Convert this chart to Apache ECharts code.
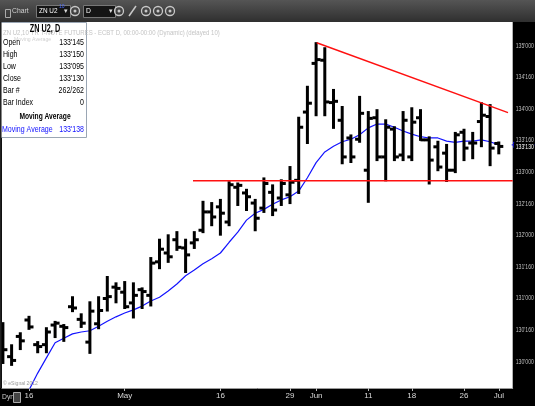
<!DOCTYPE html>
<html><head><meta charset="utf-8">
<script src="https://cdn.jsdelivr.net/npm/echarts@6/dist/echarts.min.js"></script>
<style>html,body{margin:0;padding:0;background:#000;}#c{width:535px;height:406px;}</style>
</head><body><div id="c"></div>
<script>
// ---- data (ZN U2, daily) ----
const dates = ['04-11','04-12','04-13','04-16','04-17','04-18','04-19','04-20','04-23','04-24','04-25','04-26','04-27','04-30',
 '05-01','05-02','05-03','05-04','05-07','05-08','05-09','05-10','05-11','05-14','05-15','05-16','05-17','05-18','05-21','05-22','05-23','05-24','05-25','05-29','05-30','05-31',
 '06-01','06-04','06-05','06-06','06-07','06-08','06-11','06-12','06-13','06-14','06-15','06-18','06-19','06-20','06-21','06-22','06-25','06-26','06-27','06-28','06-29',
 '07-02'];
const opens  = [130.45,130.08,130.40,130.66,130.27,130.27,130.58,130.56,130.87,130.67,130.31,130.60,131.00,131.18,
 131.10,130.93,131.14,131.05,131.58,131.72,131.93,131.80,131.88,132.08,132.37,132.45,132.21,132.76,132.67,132.51,132.43,132.68,132.59,132.64,132.87,133.95,
 134.72,134.77,134.10,133.82,133.54,133.52,133.03,133.86,133.24,133.68,133.27,133.24,133.86,133.51,133.40,133.30,133.03,133.63,133.46,133.80,133.88,
 133.453125];
const highs  = [130.61,130.26,130.45,130.71,130.31,130.53,130.63,130.58,131.02,130.75,130.94,131.02,131.34,131.24,
 131.26,131.24,131.16,131.64,131.93,132.00,132.05,131.93,132.05,132.53,132.51,132.56,132.84,132.82,132.72,132.56,132.90,132.79,132.87,133.08,133.86,134.35,
 135.04,134.96,134.30,134.03,133.58,134.19,133.95,133.98,133.82,133.71,133.95,134.01,133.98,133.55,133.48,133.43,133.62,133.67,133.62,134.09,134.06,
 133.46875];
const lows   = [129.98,129.95,130.20,130.52,130.15,130.15,130.39,130.33,130.80,130.55,130.14,130.53,130.81,130.94,
 130.85,130.70,130.85,130.89,131.48,131.58,131.77,131.42,131.80,132.05,132.16,132.01,132.16,132.48,132.40,132.08,132.37,132.32,132.48,132.51,132.67,133.46,
 133.90,133.90,133.70,133.14,133.16,133.48,132.53,133.19,132.87,133.19,133.19,133.19,133.51,132.82,133.03,132.86,133.00,133.19,133.22,133.41,133.11,
 133.296875];
const closes = [130.19,130.02,130.33,130.55,130.24,130.47,130.61,130.54,130.85,130.61,130.80,130.81,131.03,131.16,
 130.87,131.05,131.11,131.56,131.78,131.66,131.81,131.69,131.93,132.37,132.29,132.35,132.80,132.79,132.61,132.27,132.82,132.40,132.82,132.84,133.71,134.09,
 134.78,134.11,134.12,133.24,133.24,133.93,133.85,133.24,133.71,133.24,133.82,133.79,133.51,133.19,133.08,133.03,133.59,133.38,133.46,133.90,133.38,
 133.40625];
const maValues = [null,null,null,129.55,129.82,130.06,130.30,130.37,130.44,130.47,130.49,130.56,130.64,130.71,
 130.77,130.82,130.88,130.96,131.02,131.12,131.23,131.36,131.45,131.55,131.63,131.72,131.89,132.05,132.24,132.35,132.41,132.49,132.56,132.61,132.70,132.91,
 133.15,133.32,133.41,133.48,133.52,133.59,133.70,133.76,133.76,133.71,133.65,133.60,133.56,133.54,133.54,133.49,133.47,133.49,133.49,133.51,133.48,
 133.43125];
const tickIndex  = [3,14,25,33,36,42,47,53,57];
const tickLabels = ['16','May','16','29','Jun','11','18','26','Jul'];
const priceTicks = [130,130.5,131,131.5,132,132.5,133,133.5,134,134.5,135];
const resistanceLine = [[36.07,135.047],[58.06,133.94]];
const supportLine    = [[21.85,132.864],[58.6,132.864]];

// ---- helpers ----
const FONT = '"Liberation Sans",Arial,sans-serif';
function fmt32(v){
  const n = Math.floor(v + 1e-9);
  let f = (v - n) * 32;
  let w = Math.floor(f + 1e-6);
  let d = Math.round((f - w) * 10);
  if (d === 10) { w += 1; d = 0; }
  return n + "'" + String(w).padStart(2,'0') + d;
}
const last = dates.length - 1;
const ohlcData = dates.map((d,i)=>[i, opens[i], highs[i], lows[i], closes[i]]);
const maData = maValues.map((v,i)=>[i, v]);
const priceTickData = priceTicks.map(v=>[last, v]);

const chart = echarts.init(document.getElementById('c'), null, {renderer:'canvas'});

function renderBar(params, api){
  const x = api.value(0);
  const o = api.coord([x, api.value(1)]);
  const h = api.coord([x, api.value(2)]);
  const l = api.coord([x, api.value(3)]);
  const c = api.coord([x, api.value(4)]);
  const st = {stroke:'#000', lineWidth:3};
  return {type:'group', children:[
    {type:'line', shape:{x1:h[0], y1:h[1]-1, x2:l[0], y2:l[1]+1}, style:st},
    {type:'line', shape:{x1:o[0]-4.5, y1:o[1], x2:o[0], y2:o[1]}, style:st},
    {type:'line', shape:{x1:c[0], y1:c[1], x2:c[0]+4.5, y2:c[1]}, style:st}
  ]};
}

// price-axis tick labels (narrow, like the original terminal font)
function renderPriceLabel(params, api){
  const p = api.coord([api.value(0), api.value(1)]);
  const xr = params.coordSys.x + params.coordSys.width;
  return {type:'text', x:xr+3, y:p[1], scaleX:0.74,
    style:{x:0, y:0, text:fmt32(api.value(1)), fill:'#bdbdbd', font:'7px '+FONT, verticalAlign:'middle'}};
}

function renderTag(params, api){
  const p = api.coord([api.value(0), api.value(1)]);
  const xr = params.coordSys.x + params.coordSys.width;
  const kind = api.value(2);
  if (kind === 0) {
    return {type:'group', children:[
      {type:'line', shape:{x1:xr-1, y1:p[1], x2:535, y2:p[1]}, style:{stroke:'#1a1aff', lineWidth:1.2}},
      {type:'line', shape:{x1:xr+1, y1:p[1]-3, x2:xr+1, y2:p[1]+3}, style:{stroke:'#1a1aff', lineWidth:1}}
    ]};
  }
  return {type:'group', children:[
    {type:'rect', shape:{x:xr+1, y:p[1]-3.5, width:21, height:8}, style:{fill:'#000'}},
    {type:'text', x:xr+3, y:p[1]+0.5, scaleX:0.74, style:{x:0, y:0, text:fmt32(api.value(1)), fill:'#ffffff', font:'7px '+FONT, verticalAlign:'middle'}}
  ]};
}

const infoRows = [['Open', fmt32(opens[last])],['High', fmt32(highs[last])],['Low', fmt32(lows[last])],['Close', fmt32(closes[last])],['Bar #','262/262'],['Bar Index','0']];
const infoY = [43,55,67,79,91,103];
const graphics = [];
function txt(x, y, text, fill, font, align, sx, z){
  graphics.push({type:'text', x:x, y:y, scaleX:sx, z:z||104,
    style:{x:0, y:0, text:text, fill:fill, font:font, align:align||'left', verticalAlign:'middle'}});
}
// toolbar
graphics.push({type:'rect', left:0, top:0, z:100, shape:{width:535, height:22},
  style:{fill:new echarts.graphic.LinearGradient(0,0,0,1,[{offset:0,color:'#555'},{offset:1,color:'#2f2f2f'}])}});
graphics.push({type:'rect', left:3, top:7, z:101, shape:{width:5, height:8}, style:{fill:'none', stroke:'#aaa', lineWidth:1}});
txt(12, 11, 'Chart', '#cfcfcf', '8px '+FONT, 'left', 0.85, 102);
graphics.push({type:'rect', left:36, top:5, z:101, shape:{width:34, height:12}, style:{fill:'#151515', stroke:'#777', lineWidth:1}});
txt(39, 11, 'ZN U2', '#fff', '8px '+FONT, 'left', 0.8, 102);
txt(59, 7, '10', '#4a6cff', '5px '+FONT, 'left', 1, 102);
txt(64, 11, '▾', '#ddd', '7px DejaVu Sans', 'left', 1, 102);
graphics.push({type:'rect', left:83, top:5, z:101, shape:{width:32, height:12}, style:{fill:'#151515', stroke:'#777', lineWidth:1}});
txt(86, 11, 'D', '#fff', '8px '+FONT, 'left', 0.85, 102);
txt(109, 11, '▾', '#ddd', '7px DejaVu Sans', 'left', 1, 102);
[75,119,146,158,170].forEach(cx=>{
  graphics.push({type:'circle', z:101, shape:{cx:cx, cy:11, r:4.5}, style:{fill:'none', stroke:'#c8c8c8', lineWidth:1.3}});
  graphics.push({type:'circle', z:101, shape:{cx:cx, cy:11, r:1.5}, style:{fill:'#c8c8c8'}});
});
graphics.push({type:'line', z:101, shape:{x1:129, y1:16, x2:136, y2:6}, style:{stroke:'#c8c8c8', lineWidth:1.5}});
// info box
graphics.push({type:'rect', left:0, top:22, z:102, shape:{width:86, height:115}, style:{fill:'rgba(255,255,255,0.93)', stroke:'#9aa6b4', lineWidth:1}});
// faint chart title
txt(3, 33, 'ZN U2,10 YR T-NOTE FUTURES - ECBT D, 00:00-00:00 (Dynamic) (delayed 10)', '#c4c4c4', '7px '+FONT, 'left', 0.86, 103);
txt(14, 39, 'Moving Average', '#d0d0d0', '6px '+FONT, 'left', 0.86, 103);
txt(45, 29, 'ZN U2, D', '#000', 'bold 11px '+FONT, 'center', 0.66, 104);
infoRows.forEach((r,k)=>{
  txt(3, infoY[k], r[0], '#000', '9px '+FONT, 'left', 0.78, 104);
  txt(84, infoY[k], r[1], '#000', '9px '+FONT, 'right', 0.78, 104);
});
txt(45, 117, 'Moving Average', '#000', 'bold 9px '+FONT, 'center', 0.74, 104);
txt(2, 130, 'Moving Average', '#1010ff', '9px '+FONT, 'left', 0.78, 104);
txt(84, 130, fmt32(maValues[last]), '#1010ff', '9px '+FONT, 'right', 0.78, 104);
// copyright + bottom-left
txt(3, 383, '© eSignal 2012', '#9a9a9a', '6px '+FONT, 'left', 0.85, 103);
txt(2, 397, 'Dyn', '#cfcfcf', '8px '+FONT, 'left', 0.85, 103);
graphics.push({type:'rect', left:13, top:392, z:103, shape:{width:7, height:10}, style:{fill:'#444', stroke:'#aaa', lineWidth:1}});
graphics.push({type:'line', z:103, shape:{x1:0.75, y1:22, x2:0.75, y2:388}, style:{stroke:'#222', lineWidth:1.5}});

chart.setOption({
  animation:false,
  backgroundColor:'#000',
  grid:{left:2, top:22, width:510.7, height:366, show:true, backgroundColor:'#fff', borderWidth:0, containLabel:false, outerBoundsMode:'none'},
  xAxis:{type:'value', min:-0.1034, max:58.598,
    splitLine:{show:false},
    axisLine:{show:true, lineStyle:{color:'#9a9a9a', width:1}},
    axisTick:{show:true, customValues:tickIndex, length:3, lineStyle:{color:'#bbb'}},
    axisLabel:{customValues:tickIndex, formatter:function(v){const k=tickIndex.indexOf(Math.round(v)); return k>=0?tickLabels[k]:'';},
      color:'#d8d8d8', fontSize:8, margin:4, fontFamily:FONT}},
  yAxis:{type:'value', position:'right', min:129.584, max:135.375,
    splitLine:{show:false}, axisLine:{show:false}, axisTick:{show:false}, axisLabel:{show:false}},
  series:[
    {type:'line', name:'Moving Average', data:maData, showSymbol:false, symbol:'none', clip:true,
      lineStyle:{color:'#1414ff', width:1.2}, z:3},
    {type:'custom', name:'ZN U2', renderItem:renderBar, data:ohlcData, encode:{x:0, y:[1,2,3,4]}, z:4},
    {type:'line', name:'Resistance', data:resistanceLine, showSymbol:false, symbol:'none', lineStyle:{color:'#ff1010', width:1.4}, z:5},
    {type:'line', name:'Support', data:supportLine, showSymbol:false, symbol:'none', lineStyle:{color:'#ff1010', width:1.4}, z:5},
    {type:'custom', name:'priceAxis', renderItem:renderPriceLabel, clip:false, data:priceTickData, encode:{x:0, y:1}, z:5},
    {type:'custom', name:'tags', renderItem:renderTag, clip:false,
      data:[[last, maValues[last], 0],[last, closes[last], 1]], encode:{x:0, y:1}, z:6}
  ],
  graphic:graphics
});
</script></body></html>
